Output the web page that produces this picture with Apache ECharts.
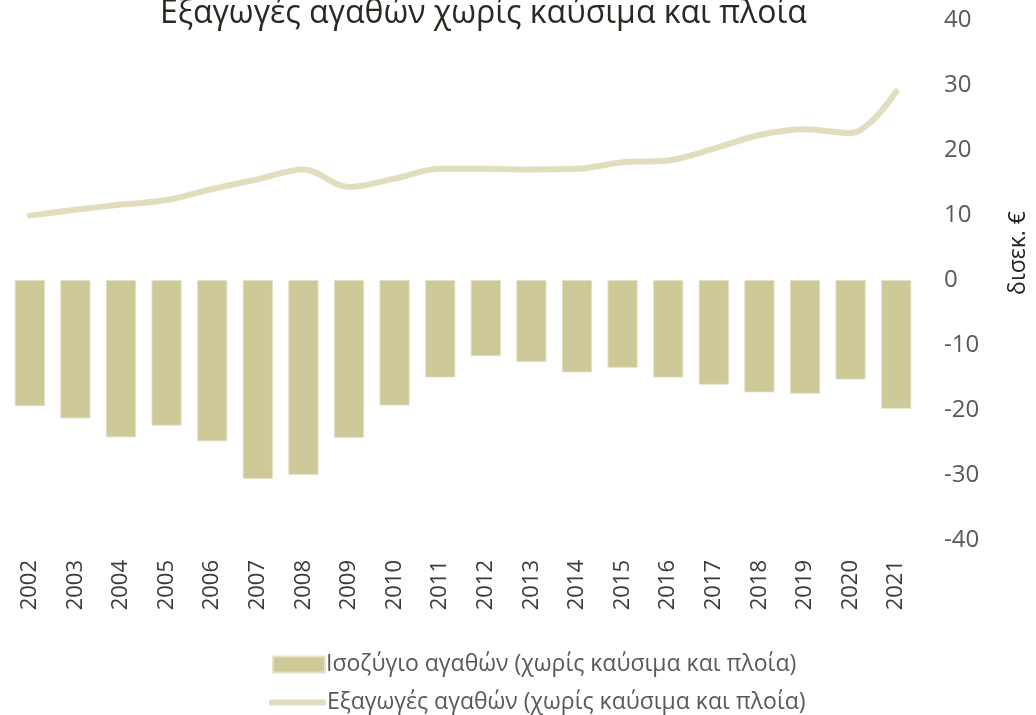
<!DOCTYPE html>
<html>
<head>
<meta charset="utf-8">
<script src="https://cdn.jsdelivr.net/npm/echarts@6/dist/echarts.min.js"></script>
<style>html,body{margin:0;padding:0;background:#fff}#c{width:1036px;height:715px}</style>
</head>
<body>
<div id="c"></div>
<script>
const titleText = 'Εξαγωγές αγαθών χωρίς καύσιμα και πλοία';
const years = ['2002','2003','2004','2005','2006','2007','2008','2009','2010','2011','2012','2013','2014','2015','2016','2017','2018','2019','2020','2021'];
const balance = [-19.4,-21.3,-24.2,-22.4,-24.8,-30.6,-30.0,-24.3,-19.3,-15.0,-11.7,-12.6,-14.2,-13.5,-15.0,-16.1,-17.3,-17.5,-15.3,-19.8];
const exportsVals = [9.9,10.8,11.6,12.3,14.0,15.5,17.0,14.3,15.6,17.1,17.1,17.0,17.1,18.1,18.4,20.2,22.3,23.2,22.6,29.0];
const yTicks = {min:-40, max:40, interval:10};
const seriesNames = ['Ισοζύγιο αγαθών (χωρίς καύσιμα και πλοία)','Εξαγωγές αγαθών (χωρίς καύσιμα και πλοία)'];
const unitLabel = 'δισεκ. €';

const chart = echarts.init(document.getElementById('c'));
const FONT = '"Open Sans", sans-serif';
const legendText = {fontFamily:FONT,fontSize:23,color:'#595959',padding:[0,0,0,-4]};
chart.setOption({
  animation:false,
  textStyle:{fontFamily:FONT},
  title:{text:titleText,left:155,top:-7,textStyle:{fontFamily:FONT,fontSize:32,fontWeight:'normal',color:'#2b2822'}},
  grid:{left:7,right:117,top:20,bottom:175,containLabel:false},
  legend:[
    {orient:'horizontal',left:267,top:648,itemWidth:52,itemHeight:16,
     textStyle:legendText,data:[{name:seriesNames[0],icon:'rect'}]},
    {orient:'horizontal',left:264,top:686,itemWidth:57,itemHeight:6,
     textStyle:legendText,
     data:[{name:seriesNames[1],icon:'roundRect',itemStyle:{color:'#e1ddbf'}}]}
  ],
  xAxis:{
    type:'category',data:years,
    axisLine:{show:false},axisTick:{show:false},
    axisLabel:{rotate:90,margin:20,fontSize:22,color:'#3a3a3a',fontFamily:FONT}
  },
  yAxis:{
    type:'value',position:'right',min:yTicks.min,max:yTicks.max,interval:yTicks.interval,
    axisLine:{show:false},axisTick:{show:false},splitLine:{show:false},
    axisLabel:{margin:25,fontSize:24,color:'#595959',fontFamily:FONT,align:'left'}
  },
  graphic:[{type:'text',left:1007,top:211,rotation:Math.PI/2,
    style:{text:unitLabel,fontSize:23,fontFamily:FONT,fill:'#222'}}],
  series:[
    {name:seriesNames[0],type:'bar',data:balance,barWidth:'66%',
     itemStyle:{color:'#cec999',borderColor:'#e4e1c6',borderWidth:0.8}},
    {name:seriesNames[1],type:'line',data:exportsVals,smooth:0.35,symbol:'none',
     lineStyle:{color:'#e1ddbf',width:6,cap:'round'},itemStyle:{color:'#e1ddbf'}}
  ]
});
</script>
</body>
</html>
